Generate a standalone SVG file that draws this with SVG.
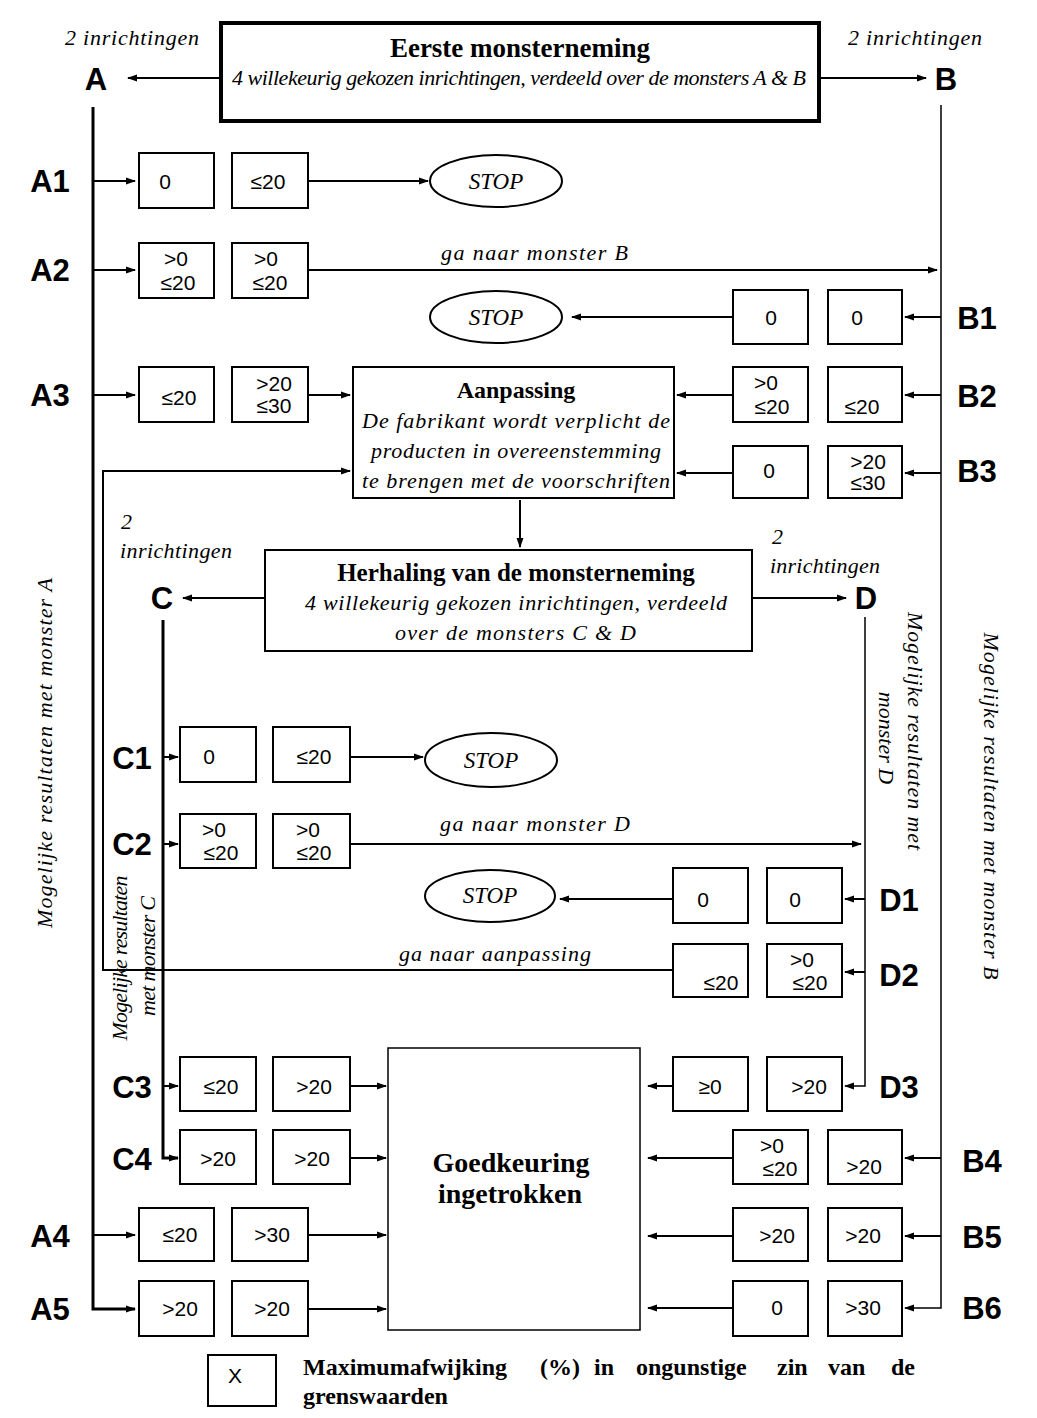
<svg xmlns="http://www.w3.org/2000/svg" width="1037" height="1418" viewBox="0 0 1037 1418">
<style>
.bg{fill:#fff}
.box{fill:#fff;stroke:#000;stroke-width:2}
.thick{fill:#fff;stroke:#000;stroke-width:4}
.ell{fill:#fff;stroke:#000;stroke-width:2}
.ln{fill:none;stroke:#000;stroke-width:2}
.lnt{fill:none;stroke:#000;stroke-width:3}
.lnn{fill:none;stroke:#000;stroke-width:1.5}
.num{font-family:"Liberation Sans",Arial,sans-serif;font-size:21px;fill:#000;text-anchor:middle}
.lab{font-family:"Liberation Sans",Arial,sans-serif;font-size:31px;font-weight:bold;fill:#000;text-anchor:middle}
.it{font-family:"Liberation Serif","Times New Roman",serif;font-style:italic;font-size:22px;fill:#000}
.bd{font-family:"Liberation Serif","Times New Roman",serif;font-weight:bold;fill:#000}
.mid{text-anchor:middle}
.stop{font-family:"Liberation Serif","Times New Roman",serif;font-style:italic;font-size:23px;fill:#000;text-anchor:middle}
</style>
<defs>
<marker id="ah" markerWidth="10" markerHeight="8" refX="9" refY="4" orient="auto" markerUnits="userSpaceOnUse"><path d="M0,0.5 L10,4 L0,7.5 z" fill="#000"/></marker>
</defs>
<rect class="bg" x="0" y="0" width="1037" height="1418"/>

<g id="connectors">
<path class="lnt" d="M93,107 V1309 H135" marker-end="url(#ah)"/>
<path class="ln" d="M93,181 H135" marker-end="url(#ah)"/>
<path class="ln" d="M93,270 H135" marker-end="url(#ah)"/>
<path class="ln" d="M93,395 H135" marker-end="url(#ah)"/>
<path class="ln" d="M93,1235 H135" marker-end="url(#ah)"/>
<path class="lnn" d="M941,105 V1308 H905" marker-end="url(#ah)"/>
<path class="ln" d="M941,317 H905" marker-end="url(#ah)"/>
<path class="ln" d="M941,395 H905" marker-end="url(#ah)"/>
<path class="ln" d="M941,473 H905" marker-end="url(#ah)"/>
<path class="ln" d="M941,1158 H905" marker-end="url(#ah)"/>
<path class="ln" d="M941,1236 H905" marker-end="url(#ah)"/>
<path class="ln" d="M220,78 H128" marker-end="url(#ah)"/>
<path class="ln" d="M820,78 H926" marker-end="url(#ah)"/>
<path class="ln" d="M308,181 H428" marker-end="url(#ah)"/>
<path class="ln" d="M308,270 H937" marker-end="url(#ah)"/>
<path class="ln" d="M733,317 H572" marker-end="url(#ah)"/>
<path class="ln" d="M308,395 H350" marker-end="url(#ah)"/>
<path class="ln" d="M733,395 H677" marker-end="url(#ah)"/>
<path class="ln" d="M733,473 H677" marker-end="url(#ah)"/>
<path class="ln" d="M673,970 H103 V471 H350" marker-end="url(#ah)"/>
<path class="ln" d="M520,500 V547" marker-end="url(#ah)"/>
<path class="ln" d="M265,598 H183" marker-end="url(#ah)"/>
<path class="ln" d="M752,598 H846" marker-end="url(#ah)"/>
<path class="lnt" d="M163,620 V1158 H178" marker-end="url(#ah)"/>
<path class="ln" d="M163,757 H178" marker-end="url(#ah)"/>
<path class="ln" d="M163,844 H178" marker-end="url(#ah)"/>
<path class="ln" d="M163,1086 H178" marker-end="url(#ah)"/>
<path class="ln" d="M350,757 H423" marker-end="url(#ah)"/>
<path class="ln" d="M350,844 H861" marker-end="url(#ah)"/>
<path class="lnn" d="M865,617 V1086 H845" marker-end="url(#ah)"/>
<path class="ln" d="M865,899 H845" marker-end="url(#ah)"/>
<path class="ln" d="M865,972 H845" marker-end="url(#ah)"/>
<path class="ln" d="M673,899 H560" marker-end="url(#ah)"/>
<path class="ln" d="M673,1086 H648" marker-end="url(#ah)"/>
<path class="ln" d="M350,1086 H386" marker-end="url(#ah)"/>
<path class="ln" d="M350,1158 H386" marker-end="url(#ah)"/>
<path class="ln" d="M308,1235 H386" marker-end="url(#ah)"/>
<path class="ln" d="M308,1309 H386" marker-end="url(#ah)"/>
<path class="ln" d="M733,1158 H648" marker-end="url(#ah)"/>
<path class="ln" d="M733,1236 H648" marker-end="url(#ah)"/>
<path class="ln" d="M733,1308 H648" marker-end="url(#ah)"/>
</g>

<g id="eerste">
<rect class="thick" x="221" y="23" width="598" height="98"/>
<text class="bd mid" x="520" y="57" font-size="27">Eerste monsterneming</text>
<text class="it" x="232" y="85" font-size="20" textLength="574" lengthAdjust="spacing">4 willekeurig gekozen inrichtingen, verdeeld over de monsters A &amp; B</text>
</g>
<g id="A"><text class="it" x="65" y="45" textLength="134" lengthAdjust="spacing">2 inrichtingen</text><text class="lab" x="96" y="90" font-size="36">A</text></g>
<g id="B"><text class="it" x="848" y="45" textLength="134" lengthAdjust="spacing">2 inrichtingen</text><text class="lab" x="946" y="90" font-size="36">B</text></g>

<g id="A1"><text class="lab" x="50" y="192">A1</text>
<rect class="box" x="139" y="153" width="75" height="55"/><text class="num" x="165" y="189">0</text>
<rect class="box" x="232" y="153" width="76" height="55"/><text class="num" x="268" y="189">≤20</text></g>
<g id="stop1"><ellipse class="ell" cx="496" cy="181" rx="66" ry="26"/><text class="stop" x="496" y="189">STOP</text></g>

<g id="A2"><text class="lab" x="50" y="281">A2</text>
<rect class="box" x="139" y="243" width="75" height="55"/><text class="num" x="176" y="266">&gt;0</text><text class="num" x="178" y="290">≤20</text>
<rect class="box" x="232" y="243" width="76" height="55"/><text class="num" x="266" y="266">&gt;0</text><text class="num" x="270" y="290">≤20</text></g>
<text class="it" x="441" y="260" textLength="187" lengthAdjust="spacing">ga naar monster B</text>

<g id="stop2"><ellipse class="ell" cx="496" cy="317" rx="66" ry="26"/><text class="stop" x="496" y="325">STOP</text></g>
<g id="B1"><text class="lab" x="977" y="329">B1</text>
<rect class="box" x="733" y="290" width="75" height="54"/><text class="num" x="771" y="325">0</text>
<rect class="box" x="828" y="290" width="74" height="54"/><text class="num" x="857" y="325">0</text></g>

<g id="A3"><text class="lab" x="50" y="406">A3</text>
<rect class="box" x="139" y="367" width="75" height="55"/><text class="num" x="179" y="405">≤20</text>
<rect class="box" x="232" y="367" width="76" height="55"/><text class="num" x="274" y="391">&gt;20</text><text class="num" x="274" y="413">≤30</text></g>

<g id="aanpassing">
<rect class="box" x="353" y="367" width="321" height="131"/>
<text class="bd mid" x="516" y="398" font-size="24">Aanpassing</text>
<text class="it" x="362" y="428" font-size="23" textLength="308" lengthAdjust="spacing">De fabrikant wordt verplicht de</text>
<text class="it" x="371" y="458" font-size="23" textLength="290" lengthAdjust="spacing">producten in overeenstemming</text>
<text class="it" x="362" y="488" font-size="23" textLength="308" lengthAdjust="spacing">te brengen met de voorschriften</text>
</g>

<g id="B2"><text class="lab" x="977" y="407">B2</text>
<rect class="box" x="733" y="367" width="75" height="55"/><text class="num" x="766" y="390">&gt;0</text><text class="num" x="772" y="414">≤20</text>
<rect class="box" x="828" y="367" width="74" height="55"/><text class="num" x="862" y="414">≤20</text></g>
<g id="B3"><text class="lab" x="977" y="482">B3</text>
<rect class="box" x="733" y="446" width="75" height="52"/><text class="num" x="769" y="478">0</text>
<rect class="box" x="828" y="446" width="74" height="52"/><text class="num" x="868" y="469">&gt;20</text><text class="num" x="868" y="490">≤30</text></g>

<g id="herhaling">
<rect class="box" x="265" y="550" width="487" height="101"/>
<text class="bd mid" x="516" y="581" font-size="25">Herhaling van de monsterneming</text>
<text class="it" x="305" y="610" font-size="23" textLength="422" lengthAdjust="spacing">4 willekeurig gekozen inrichtingen, verdeeld</text>
<text class="it" x="395" y="640" font-size="23" textLength="241" lengthAdjust="spacing">over de monsters C &amp; D</text>
</g>
<g id="C"><text class="it" x="121" y="529">2</text><text class="it" x="120" y="558" textLength="112" lengthAdjust="spacing">inrichtingen</text><text class="lab" x="162" y="609" font-size="36">C</text></g>
<g id="D"><text class="it" x="772" y="544">2</text><text class="it" x="770" y="573" textLength="110" lengthAdjust="spacing">inrichtingen</text><text class="lab" x="866" y="609" font-size="36">D</text></g>

<g id="C1"><text class="lab" x="132" y="769">C1</text>
<rect class="box" x="180" y="727" width="76" height="55"/><text class="num" x="209" y="764">0</text>
<rect class="box" x="273" y="727" width="77" height="55"/><text class="num" x="314" y="764">≤20</text></g>
<g id="stop3"><ellipse class="ell" cx="491" cy="760" rx="66" ry="27"/><text class="stop" x="491" y="768">STOP</text></g>

<g id="C2"><text class="lab" x="132" y="855">C2</text>
<rect class="box" x="180" y="814" width="76" height="54"/><text class="num" x="214" y="837">&gt;0</text><text class="num" x="221" y="860">≤20</text>
<rect class="box" x="273" y="814" width="77" height="54"/><text class="num" x="308" y="837">&gt;0</text><text class="num" x="314" y="860">≤20</text></g>
<text class="it" x="440" y="831" textLength="190" lengthAdjust="spacing">ga naar monster D</text>

<g id="stop4"><ellipse class="ell" cx="490" cy="896" rx="65" ry="26"/><text class="stop" x="490" y="903">STOP</text></g>
<g id="D1"><text class="lab" x="899" y="911">D1</text>
<rect class="box" x="673" y="868" width="75" height="55"/><text class="num" x="703" y="907">0</text>
<rect class="box" x="767" y="868" width="75" height="55"/><text class="num" x="795" y="907">0</text></g>

<text class="it" x="399" y="961" textLength="192" lengthAdjust="spacing">ga naar aanpassing</text>
<g id="D2"><text class="lab" x="899" y="986">D2</text>
<rect class="box" x="673" y="944" width="75" height="53"/><text class="num" x="721" y="990">≤20</text>
<rect class="box" x="767" y="944" width="75" height="53"/><text class="num" x="802" y="967">&gt;0</text><text class="num" x="810" y="990">≤20</text></g>

<g id="goedkeuring">
<rect class="lnn" x="388" y="1048" width="252" height="282" fill="#fff"/>
<text class="bd mid" x="511" y="1172" font-size="28">Goedkeuring</text>
<text class="bd mid" x="510" y="1203" font-size="28">ingetrokken</text>
</g>

<g id="C3"><text class="lab" x="132" y="1098">C3</text>
<rect class="box" x="180" y="1057" width="76" height="54"/><text class="num" x="221" y="1094">≤20</text>
<rect class="box" x="273" y="1057" width="77" height="54"/><text class="num" x="314" y="1094">&gt;20</text></g>
<g id="D3"><text class="lab" x="899" y="1098">D3</text>
<rect class="box" x="673" y="1057" width="75" height="54"/><text class="num" x="710" y="1094">≥0</text>
<rect class="box" x="767" y="1057" width="75" height="54"/><text class="num" x="809" y="1094">&gt;20</text></g>
<g id="C4"><text class="lab" x="132" y="1170">C4</text>
<rect class="box" x="180" y="1130" width="76" height="54"/><text class="num" x="218" y="1166">&gt;20</text>
<rect class="box" x="273" y="1130" width="77" height="54"/><text class="num" x="312" y="1166">&gt;20</text></g>
<g id="B4"><text class="lab" x="982" y="1172">B4</text>
<rect class="box" x="733" y="1130" width="75" height="54"/><text class="num" x="772" y="1153">&gt;0</text><text class="num" x="780" y="1176">≤20</text>
<rect class="box" x="828" y="1130" width="74" height="54"/><text class="num" x="864" y="1174">&gt;20</text></g>
<g id="A4"><text class="lab" x="50" y="1247">A4</text>
<rect class="box" x="139" y="1208" width="75" height="53"/><text class="num" x="180" y="1242">≤20</text>
<rect class="box" x="232" y="1208" width="76" height="53"/><text class="num" x="272" y="1242">&gt;30</text></g>
<g id="B5"><text class="lab" x="982" y="1248">B5</text>
<rect class="box" x="733" y="1208" width="75" height="53"/><text class="num" x="777" y="1243">&gt;20</text>
<rect class="box" x="828" y="1208" width="74" height="53"/><text class="num" x="863" y="1243">&gt;20</text></g>
<g id="A5"><text class="lab" x="50" y="1320">A5</text>
<rect class="box" x="139" y="1281" width="75" height="55"/><text class="num" x="180" y="1316">&gt;20</text>
<rect class="box" x="232" y="1281" width="76" height="55"/><text class="num" x="272" y="1316">&gt;20</text></g>
<g id="B6"><text class="lab" x="982" y="1319">B6</text>
<rect class="box" x="733" y="1281" width="75" height="55"/><text class="num" x="777" y="1315">0</text>
<rect class="box" x="828" y="1281" width="74" height="55"/><text class="num" x="863" y="1315">&gt;30</text></g>

<g id="legend">
<rect class="box" x="208" y="1355" width="68" height="51"/>
<text class="num" x="235" y="1383">X</text>
<text class="bd" y="1375" font-size="24"><tspan x="303">Maximumafwijking</tspan> <tspan x="540">(%)</tspan> <tspan x="594">in</tspan> <tspan x="636">ongunstige</tspan> <tspan x="777">zin</tspan> <tspan x="828">van</tspan> <tspan x="891">de</tspan></text>
<text class="bd" x="303" y="1404" font-size="24">grenswaarden</text>
</g>

<g id="side-labels">
<text class="it mid" transform="translate(52,753) rotate(-90)" textLength="350" lengthAdjust="spacing">Mogelijke resultaten met monster A</text>
<text class="it mid" transform="translate(984,806) rotate(90)" textLength="347" lengthAdjust="spacing">Mogelijke resultaten met monster B</text>
<text class="it mid" transform="translate(908,731) rotate(90)" textLength="238" lengthAdjust="spacing">Mogelijke resultaten met</text>
<text class="it mid" transform="translate(879,738) rotate(90)">monster D</text>
<text class="it mid" transform="translate(127,958) rotate(-90)" textLength="165" lengthAdjust="spacing">Mogelijke resultaten</text>
<text class="it mid" transform="translate(155,956) rotate(-90)" textLength="120" lengthAdjust="spacing">met monster C</text>
</g>
</svg>
